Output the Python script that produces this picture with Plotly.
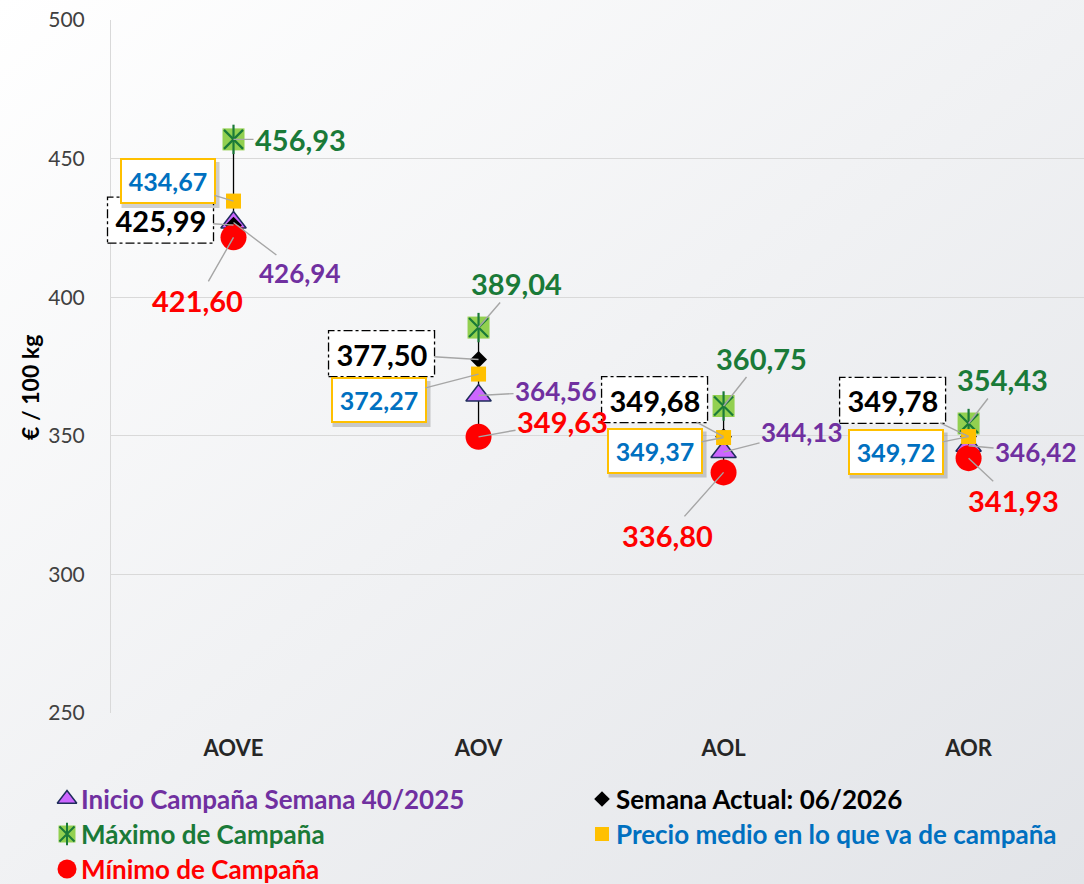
import base64
import plotly.graph_objects as go

# ---------------- data ----------------
categories = ["AOVE", "AOV", "AOL", "AOR"]
inicio = [426.94, 364.56, 344.13, 346.42]      # Inicio Campaña Semana 40/2025
actual = [425.99, 377.50, 349.68, 349.78]      # Semana Actual: 06/2026
maximo = [456.93, 389.04, 360.75, 354.43]      # Máximo de Campaña
precio = [434.67, 372.27, 349.37, 349.72]      # Precio medio en lo que va de campaña
minimo = [421.60, 349.63, 336.80, 341.93]      # Mínimo de Campaña
y_ticks = [250, 300, 350, 400, 450, 500]

legend_names = {
    "inicio": "Inicio Campaña Semana 40/2025",
    "actual": "Semana Actual: 06/2026",
    "maximo": "Máximo de Campaña",
    "precio": "Precio medio en lo que va de campaña",
    "minimo": "Mínimo de Campaña",
}

# ---------------- styles ----------------
W, H = 1084, 884
FONT = "Lato"
C_PURPLE, C_GREEN, C_RED, C_BLUE, C_BLACK = "#7030a0", "#1a7a38", "#ff0000", "#0070c0", "#000000"
LEADER = "#a6a6a6"
X_RANGE = [-0.5, 3.471]
Y_RANGE = [250, 500]
PLOT_L, PLOT_T, PLOT_B = 111, 20, 713

# label offsets (pixels, screen: +x right, +y down) from each marker
off_max = [(67, 0), (38, -44), (38, -48), (34, -44)]
off_act = [(-73, -5), (-97, -6), (-69, -37), (-76, -36)]
off_pre = [(-66, -20), (-100, 26), (-69, 13), (-73, 15)]
off_ini = [(66, 50), (77, -4), (78, -20), (67, 6)]
off_min = [(-36, 63), (84, -15), (-56, 63), (45, 42)]

fmt = lambda v: f"{v:.2f}".replace(".", ",")


def xdom(i):
    return (i - X_RANGE[0]) / (X_RANGE[1] - X_RANGE[0])


def ydom(v):
    return (v - Y_RANGE[0]) / (Y_RANGE[1] - Y_RANGE[0])


fig = go.Figure()

# gradient background
svg = ('<svg xmlns="http://www.w3.org/2000/svg" width="100" height="100" preserveAspectRatio="none">'
       '<defs><linearGradient id="g" x1="0" y1="0" x2="1" y2="1">'
       '<stop offset="0" stop-color="#ffffff"/><stop offset="1" stop-color="#e2e4e8"/>'
       '</linearGradient></defs><rect width="100" height="100" fill="url(#g)"/></svg>')
src = "data:image/svg+xml;base64," + base64.b64encode(svg.encode()).decode()
fig.add_layout_image(source=src, xref="paper", yref="paper", x=0, y=1, sizex=1, sizey=1,
                     xanchor="left", yanchor="top", sizing="stretch", layer="below")

# high-low lines
hx, hy = [], []
for c, hi, lo in zip(categories, maximo, minimo):
    hx += [c, c, None]
    hy += [hi, lo, None]
fig.add_trace(go.Scatter(x=hx, y=hy, mode="lines", line=dict(color="black", width=1.3),
                         showlegend=False, hoverinfo="skip"))

fig.add_trace(go.Scatter(x=categories, y=inicio, mode="markers", showlegend=False,
                         marker=dict(symbol="triangle-up", size=22, color="#cc66ff",
                                     line=dict(color="#1f2d5c", width=1.5))))
fig.add_trace(go.Scatter(x=categories, y=actual, mode="markers", showlegend=False,
                         marker=dict(symbol="diamond", size=13, color="black")))
fig.add_trace(go.Scatter(x=categories, y=maximo, mode="markers", showlegend=False,
                         marker=dict(symbol="square", size=22, color="#92d050",
                                     line=dict(width=0))))
fig.add_trace(go.Scatter(x=categories, y=maximo, mode="markers", showlegend=False,
                         marker=dict(symbol="x-thin-open", size=19, color=C_GREEN,
                                     line=dict(color=C_GREEN, width=2.2))))
fig.add_trace(go.Scatter(x=categories, y=maximo, mode="markers", showlegend=False,
                         marker=dict(symbol="line-ns-open", size=21, color=C_GREEN,
                                     line=dict(color=C_GREEN, width=2.2))))
fig.add_trace(go.Scatter(x=categories, y=precio, mode="markers", showlegend=False,
                         marker=dict(symbol="square", size=15, color="#ffc000",
                                     line=dict(width=0))))
fig.add_trace(go.Scatter(x=categories, y=minimo, mode="markers", showlegend=False,
                         marker=dict(symbol="circle", size=26, color="#ff0000",
                                     line=dict(width=0))))

annotations = []
shapes = []


def label(c, v, off, color, size, **kw):
    annotations.append(dict(
        x=c, y=v, xref="x", yref="y", ax=off[0], ay=off[1],
        text=f"<b>{fmt(v)}</b>", showarrow=True, arrowhead=0, arrowwidth=1.4,
        arrowcolor=LEADER, font=dict(family=FONT, size=size, color=color), **kw))


def box(i, v, x0, x1, y0, y1, **kw):
    # pixel-sized rectangle anchored on the data point (domain refs -> not clipped)
    shapes.append(dict(type="rect", xref="x domain", yref="y domain",
                       xsizemode="pixel", ysizemode="pixel",
                       xanchor=xdom(i), yanchor=ydom(v),
                       x0=x0, x1=x1, y0=y0, y1=y1, layer="above", **kw))


for i, c in enumerate(categories):
    label(c, maximo[i], off_max[i], C_GREEN, 29)
    label(c, inicio[i], off_ini[i], C_PURPLE, 26)
    label(c, minimo[i], off_min[i], C_RED, 29)
    # Semana actual - dash-dot box
    ax, ay = off_act[i]
    box(i, actual[i], ax - 53, ax + 53, -ay - 23, -ay + 23,
        line=dict(color="black", width=1.3, dash="dashdot"), fillcolor="white")
    label(c, actual[i], off_act[i], C_BLACK, 29, width=94, height=34, borderpad=5)
    # Precio medio - gold box with shadow
    ax, ay = off_pre[i]
    box(i, precio[i], ax - 46, ax + 52, -ay - 27, -ay + 19,
        line=dict(width=0), fillcolor="rgba(0,0,0,0.18)")
    label(c, precio[i], off_pre[i], C_BLUE, 25, width=82, height=32, borderpad=5,
          bordercolor="#ffc000", borderwidth=2, bgcolor="white")

# y-axis title
annotations.append(dict(x=30 / W, y=1 - 388 / H, xref="paper", yref="paper", showarrow=False,
                        xanchor="center", yanchor="middle",
                        text="<b>€ / 100 kg</b>", textangle=-90,
                        font=dict(family=FONT, size=23, color="black")))

# ---------------- custom legend ----------------
leg = [
    ("inicio", 67, 799, C_PURPLE), ("maximo", 67, 834, C_GREEN), ("minimo", 67, 869, C_RED),
    ("actual", 602, 799, C_BLACK), ("precio", 602, 834, C_BLUE),
]
leg_marker = {
    "inicio": [dict(symbol="triangle-up", size=17, color="#cc66ff", line=dict(color="#1f2d5c", width=1.5))],
    "maximo": [dict(symbol="square", size=17, color="#92d050", line=dict(width=0)),
               dict(symbol="x-thin-open", size=15, color=C_GREEN, line=dict(color=C_GREEN, width=2)),
               dict(symbol="line-ns-open", size=16, color=C_GREEN, line=dict(color=C_GREEN, width=2))],
    "minimo": [dict(symbol="circle", size=19, color="#ff0000", line=dict(width=0))],
    "actual": [dict(symbol="diamond", size=12, color="black")],
    "precio": [dict(symbol="square", size=14, color="#ffc000", line=dict(width=0))],
}
for key, lx, ly, col in leg:
    for m in leg_marker[key]:
        fig.add_trace(go.Scatter(x=[lx], y=[ly], xaxis="x2", yaxis="y2", mode="markers",
                                 marker=m, showlegend=False, hoverinfo="skip", cliponaxis=False))
    annotations.append(dict(x=(lx + 12) / W, y=1 - ly / H, xref="paper", yref="paper",
                            xanchor="left", yanchor="middle", showarrow=False,
                            text=f"<b>{legend_names[key]}</b>",
                            font=dict(family=FONT, size=26, color=col)))

fig.update_layout(
    width=W, height=H, autosize=False,
    margin=dict(l=0, r=0, t=0, b=0, autoexpand=False),
    paper_bgcolor="#f2f3f5", plot_bgcolor="rgba(0,0,0,0)",
    showlegend=False,
    xaxis=dict(domain=[PLOT_L / W, 1], type="category", categoryorder="array",
               categoryarray=categories, range=X_RANGE, showgrid=False, automargin=False,
               zeroline=False, showline=False, ticks="", ticklabelstandoff=20,
               tickfont=dict(family=FONT, size=22, color="#262626"),
               tickvals=categories, ticktext=[f"<b>{c}</b>" for c in categories]),
    yaxis=dict(domain=[1 - PLOT_B / H, 1 - PLOT_T / H], range=Y_RANGE, tickvals=y_ticks,
               showgrid=True, gridcolor="#d9d9d9", gridwidth=1, zeroline=False,
               showline=True, linecolor="#d9d9d9", linewidth=1, ticks="", automargin=False,
               ticklabeloverflow="allow", ticklabelstandoff=21,
               tickfont=dict(family=FONT, size=21, color="#404040")),
    xaxis2=dict(domain=[0, 1], range=[0, W], visible=False, anchor="y2", automargin=False),
    yaxis2=dict(domain=[0, 1], range=[H, 0], visible=False, anchor="x2", automargin=False),
    annotations=annotations,
    shapes=shapes,
    hovermode=False,
)

fig.write_html("out.html",
               config={"displayModeBar": False},
               post_script="document.body.style.margin='0';document.body.style.overflow='hidden';")
